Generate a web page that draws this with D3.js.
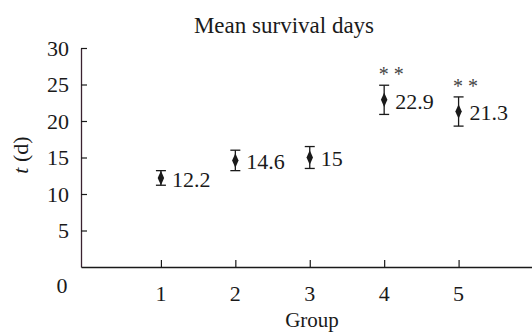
<!DOCTYPE html>
<html>
<head>
<meta charset="utf-8">
<script src="https://cdn.jsdelivr.net/npm/d3@7"></script>
<style>
  body { margin: 0; background: #fff; }
  svg { display: block; font-family: "Liberation Serif", "Times New Roman", serif; }
</style>
</head>
<body>
<script>
// data
const groups = [1, 2, 3, 4, 5];
const means = [12.2, 14.6, 15, 22.9, 21.3];
const errors = [1.0, 1.4, 1.5, 2.0, 2.0];
const marks = ['', '', '', '* *', '* *'];
const yTicks = [5, 10, 15, 20, 25, 30];

const W = 532, H = 334;
const svg = d3.select('body').append('svg')
  .attr('width', W)
  .attr('height', H);

// scales
const x = d3.scaleLinear().domain([-0.074, 6]).range([81, 533]);
const y = d3.scaleLinear().domain([0, 30]).range([267, 48]);

const ink = '#1a1a1a';

// y axis, ticks inside
const yAxis = svg.append('g')
  .attr('transform', 'translate(' + x(-0.074) + ',0)')
  .call(d3.axisRight(y).tickValues(yTicks).tickSize(6).tickSizeOuter(0).tickFormat(''));
yAxis.select('.domain').attr('stroke', '#3a2230').attr('stroke-width', 1.3);
yAxis.selectAll('.tick line').attr('stroke', ink).attr('stroke-width', 1.2);

// y tick labels on the left
svg.append('g').selectAll('text')
  .data(yTicks)
  .join('text')
  .attr('x', 69)
  .attr('y', d => y(d))
  .attr('dy', '0.35em')
  .attr('text-anchor', 'end')
  .attr('font-size', 22)
  .attr('fill', ink)
  .text(d => d);

// x axis, ticks inside
const xAxis = svg.append('g')
  .attr('transform', 'translate(0,' + y(0) + ')')
  .call(d3.axisTop(x).tickValues(groups).tickSize(7).tickSizeOuter(0).tickFormat(''));
xAxis.select('.domain').attr('stroke', ink).attr('stroke-width', 1.5);
xAxis.selectAll('.tick line').attr('stroke', ink).attr('stroke-width', 1.2);

svg.append('g').selectAll('text')
  .data(groups)
  .join('text')
  .attr('x', d => x(d))
  .attr('y', 293)
  .attr('dy', '0.35em')
  .attr('text-anchor', 'middle')
  .attr('font-size', 22)
  .attr('fill', ink)
  .text(d => d);

// origin label
svg.append('text')
  .attr('x', 62)
  .attr('y', 285)
  .attr('dy', '0.35em')
  .attr('text-anchor', 'middle')
  .attr('font-size', 22)
  .attr('fill', ink)
  .text('0');

// titles
svg.append('text')
  .attr('x', 284)
  .attr('y', 25)
  .attr('dy', '0.35em')
  .attr('text-anchor', 'middle')
  .attr('font-size', 23)
  .attr('fill', ink)
  .text('Mean survival days');

svg.append('text')
  .attr('x', 312)
  .attr('y', 327)
  .attr('text-anchor', 'middle')
  .attr('font-size', 21)
  .attr('fill', ink)
  .text('Group');

const yl = svg.append('text')
  .attr('transform', 'translate(20,155) rotate(-90)')
  .attr('dy', '0.35em')
  .attr('text-anchor', 'middle')
  .attr('font-size', 22)
  .attr('fill', ink);
yl.append('tspan').attr('font-style', 'italic').text('t');
yl.append('tspan').text(' (d)');

// points with error bars
const pts = svg.append('g').selectAll('g')
  .data(groups)
  .join('g');

pts.append('line')
  .attr('x1', d => x(d)).attr('x2', d => x(d))
  .attr('y1', (d, i) => y(means[i] + errors[i]))
  .attr('y2', (d, i) => y(means[i] - errors[i]))
  .attr('stroke', ink).attr('stroke-width', 1.3);

pts.selectAll('.cap')
  .data((d, i) => [means[i] + errors[i], means[i] - errors[i]].map(v => ({ g: d, v: v })))
  .join('line')
  .attr('class', 'cap')
  .attr('x1', d => x(d.g) - 5).attr('x2', d => x(d.g) + 5)
  .attr('y1', d => y(d.v)).attr('y2', d => y(d.v))
  .attr('stroke', ink).attr('stroke-width', 1.3);

pts.append('path')
  .attr('d', d3.symbol(d3.symbolDiamond, 50))
  .attr('transform', (d, i) => 'translate(' + x(d) + ',' + y(means[i]) + ') scale(0.85,1.1)')
  .attr('fill', ink);

pts.append('text')
  .attr('x', d => x(d) + 11)
  .attr('y', (d, i) => y(means[i]) + 1)
  .attr('dy', '0.35em')
  .attr('font-size', 22)
  .attr('fill', ink)
  .text((d, i) => means[i]);

pts.append('text')
  .attr('x', d => x(d) + 7)
  .attr('y', (d, i) => y(means[i] + errors[i]) - 4)
  .attr('text-anchor', 'middle')
  .attr('font-size', 20)
  .attr('fill', '#444')
  .text((d, i) => marks[i]);
</script>
</body>
</html>
